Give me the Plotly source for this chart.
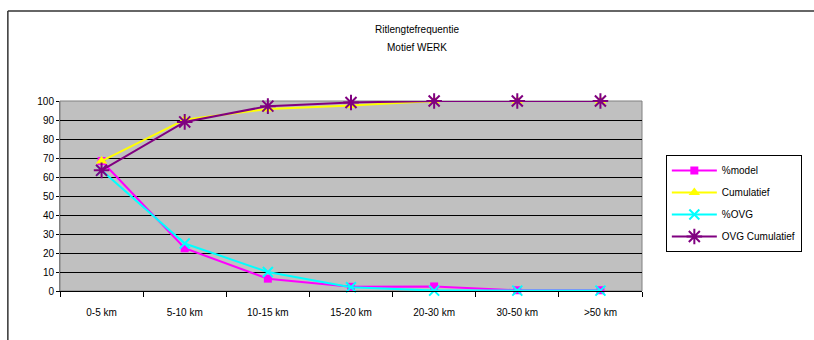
import plotly.graph_objects as go

# Trip length classes and percentages
categories = ["0-5 km", "5-10 km", "10-15 km", "15-20 km", "20-30 km", "30-50 km", ">50 km"]
pct_model = [68.4, 22.5, 6.5, 2.2, 2.4, 0.4, 0.4]
cum_model = [68.4, 90.2, 95.8, 97.6, 100, 100, 100]
pct_ovg = [63.5, 25.0, 10.0, 2.0, 0.2, 0.2, 0.2]
cum_ovg = [63.5, 89.0, 97.3, 99.2, 100, 100, 100]

series_names = ["%model", "Cumulatief", "%OVG", "OVG Cumulatief"]
y_ticks = list(range(0, 101, 10))
title_lines = ["Ritlengtefrequentie", "Motief WERK"]

W, H = 814, 340
L, R, T, B = 60, 168, 101, 49
plot_w = W - L - R
plot_h = H - T - B

font = dict(family="Liberation Sans, Arial, sans-serif", size=10, color="#000000")

fig = go.Figure()
styles = [
    dict(color="#FF00FF", symbol="square", size=8, lw=0),
    dict(color="#FFFF00", symbol="triangle-up", size=10, lw=0),
    dict(color="#00FFFF", symbol="x-thin", size=10, lw=2),
    dict(color="#800080", symbol="asterisk", size=13, lw=2),
]
for name, vals, st in zip(series_names, [pct_model, cum_model, pct_ovg, cum_ovg], styles):
    fig.add_trace(go.Scatter(
        x=categories, y=vals, name=name, mode="lines+markers", legendgroup=name,
        cliponaxis=False,
        line=dict(color=st["color"], width=2),
        marker=dict(color=st["color"], symbol=st["symbol"], size=st["size"],
                    line=dict(color=st["color"], width=st["lw"])),
    ))

# outer chart frame: top and left edges (the rest lies outside the page)
frame_x0 = (7.5 - L) / plot_w
frame_y1 = (H - 11 - B) / plot_h
fig.add_shape(type="line", xref="paper", yref="paper",
              x0=frame_x0, x1=(W + 10 - L) / plot_w, y0=frame_y1, y1=frame_y1,
              line=dict(color="#333333", width=1.5), layer="below")
fig.add_shape(type="line", xref="paper", yref="paper",
              x0=frame_x0, x1=frame_x0, y0=-(B + 10) / plot_h, y1=frame_y1,
              line=dict(color="#333333", width=1.5), layer="below")

# two-line chart title
for text, ypx in zip(title_lines, [30, 47]):
    fig.add_annotation(text=text, xref="paper", yref="paper",
                       x=(419 - L) / plot_w, y=(H - B - ypx) / plot_h,
                       xanchor="center", yanchor="middle", showarrow=False,
                       font=dict(size=10))

fig.update_layout(
    width=W, height=H,
    margin=dict(l=L, r=R, t=T, b=B),
    paper_bgcolor="#FFFFFF",
    plot_bgcolor="#C0C0C0",
    font=font,
    showlegend=True,
    legend=dict(x=(670 - L) / plot_w, xanchor="left", y=(H - B - 155) / plot_h, yanchor="top",
                bgcolor="#FFFFFF", bordercolor="#000000", borderwidth=1,
                font=dict(size=10), tracegroupgap=3, itemwidth=45),
    xaxis=dict(type="category", categoryorder="array", categoryarray=categories,
               range=[-0.5, len(categories) - 0.5],
               showgrid=False, showline=True, linecolor="#000000", linewidth=1,
               ticks="outside", tickson="boundaries", ticklen=5, tickcolor="#000000",
               ticklabelstandoff=12,
               tickfont=dict(size=10), zeroline=False, mirror=False),
    yaxis=dict(range=[0, 100], tickvals=y_ticks, showgrid=True, gridcolor="#000000",
               gridwidth=1, showline=True, linecolor="#808080", linewidth=1,
               ticks="outside", ticklen=3, tickcolor="#000000", zeroline=False,
               tickfont=dict(size=10)),
)
# gray plot border on top and right
fig.add_shape(type="rect", xref="paper", yref="paper", x0=0, x1=1, y0=0, y1=1,
              line=dict(color="#808080", width=1), layer="below")

fig.write_html("out.html", config={"displayModeBar": False},
               post_script="document.body.style.margin='0';document.body.style.overflow='hidden';")
